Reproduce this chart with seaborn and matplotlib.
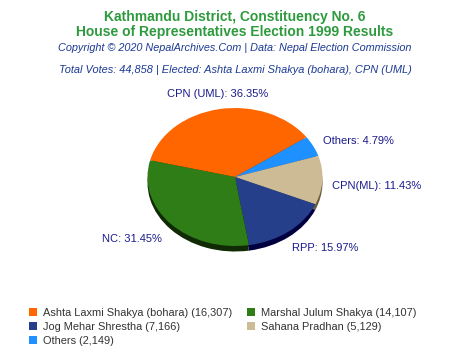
import numpy as np
import seaborn as sns
import matplotlib.pyplot as plt
from matplotlib.patches import Patch

sns.set_theme(style="white")
plt.rcParams['font.family'] = ['Liberation Sans', 'DejaVu Sans']

parties = ["CPN (UML)", "Others", "CPN(ML)", "RPP", "NC"]
votes = [16307, 2149, 5129, 7166, 14107]
candidates = ["Ashta Laxmi Shakya (bohara)", "Others", "Sahana Pradhan",
              "Jog Mehar Shrestha", "Marshal Julum Shakya"]
colors = ["#ff6600", "#1e90ff", "#cdbb96", "#253f8a", "#2e7d16"]
dark = ["#7a3000", "#0b4a8a", "#6b5c3e", "#000040", "#0f2a05"]

total = sum(votes)
pct = [v / total * 100 for v in votes]

fig = plt.figure(figsize=(4.7, 3.52), dpi=100)
# ellipse: rx ~ 87.5 px, ry ~ 69 px, centre at (235, 177) from top
rx, ry = 87.5, 69.0
cx, cy = 235, 352 - 177
w, h = 240, 200
ax = fig.add_axes([(cx - w / 2) / 470, (cy - h / 2) / 352, w / 470, h / 352])

# depth (3D rim)
depth = 5.5 / ry
ax.pie(votes, colors=dark, startangle=166, counterclock=False,
       center=(0, -depth), wedgeprops=dict(linewidth=0))
wedges, texts = ax.pie(votes, colors=colors, startangle=166, counterclock=False,
                       labels=[f"{p}: {q:.2f}%" for p, q in zip(parties, pct)],
                       labeldistance=1.2, wedgeprops=dict(linewidth=0),
                       textprops=dict(color="#1a1a8c", fontsize=8))
texts[0].set_ha("center")
x, y = texts[0].get_position()
texts[0].set_position((x + 0.02, y + 0.03))
x, y = texts[1].get_position()
texts[1].set_position((x - 0.07, y - 0.02))
for t in texts[2:4]:
    x, y = t.get_position()
    t.set_position((x - 0.09, y - 0.08))
x, y = texts[4].get_position()
texts[4].set_position((x + 0.05, y - 0.08))

ax.set_aspect("auto")
ax.set_xlim(-w / 2 / rx, w / 2 / rx)
ax.set_ylim(-h / 2 / ry, h / 2 / ry)
ax.axis("off")

fig.text(0.5, 1 - 17 / 352, "Kathmandu District, Constituency No. 6", ha="center", va="center",
         color="#2e9a3e", fontsize=10, fontweight="bold")
fig.text(0.5, 1 - 32 / 352, "House of Representatives Election 1999 Results", ha="center", va="center",
         color="#2e9a3e", fontsize=10, fontweight="bold")
fig.text(0.5, 1 - 48 / 352, "Copyright © 2020 NepalArchives.Com | Data: Nepal Election Commission",
         ha="center", va="center", color="#1c3a94", fontsize=7.8, style="italic")
fig.text(0.5, 1 - 70 / 352,
         f"Total Votes: {total:,} | Elected: {candidates[0]}, {parties[0]}",
         ha="center", va="center", color="#1c3a94", fontsize=7.95, style="italic")

order = [0, 3, 1, 4, 2]
handles = [Patch(facecolor=colors[i], edgecolor="none") for i in order]
labs = [f"{candidates[i]} ({votes[i]:,})" for i in order]
fig.legend(handles, labs, ncol=2, loc="upper left", bbox_to_anchor=(29 / 470, 1 - 308 / 352),
           frameon=False, fontsize=7.9, handlelength=0.73, handleheight=0.73,
           handletextpad=0.55, columnspacing=1.37, labelspacing=0.37, labelcolor="#333333",
           borderpad=0, borderaxespad=0)

fig.savefig("out.png", dpi=100)
